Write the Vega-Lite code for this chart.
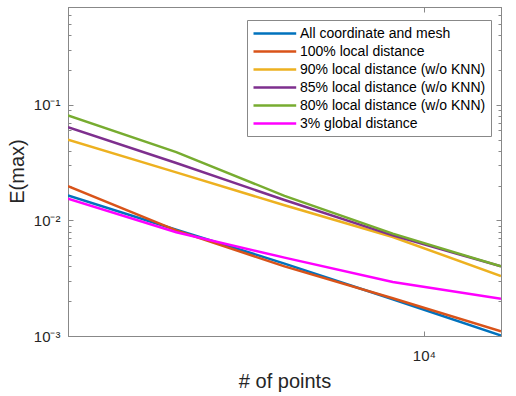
{
  "$schema": "https://vega.github.io/schema/vega-lite/v6.json",
  "width": 433,
  "height": 329,
  "autosize": {"type": "none"},
  "padding": {"left": 68, "top": 7, "right": 15, "bottom": 60},
  "config": {
    "font": "Liberation Sans",
    "view": {"stroke": "#888888", "strokeWidth": 1},
    "axis": {
      "domainColor": "#888888",
      "tickColor": "#888888",
      "labelColor": "#262626",
      "titleColor": "#262626",
      "grid": false,
      "labelFont": "Liberation Sans",
      "titleFont": "Liberation Sans",
      "labelFontSize": 15,
      "titleFontSize": 20,
      "titleFontWeight": "normal"
    }
  },
  "data": {
    "values": [
      {"method": "All coordinate and mesh", "N": 1024, "E": 0.0164},
      {"method": "All coordinate and mesh", "N": 2048, "E": 0.0083},
      {"method": "All coordinate and mesh", "N": 4096, "E": 0.00423},
      {"method": "All coordinate and mesh", "N": 8192, "E": 0.00208},
      {"method": "All coordinate and mesh", "N": 16384, "E": 0.00101},
      {"method": "100% local distance", "N": 1024, "E": 0.0198},
      {"method": "100% local distance", "N": 2048, "E": 0.0082},
      {"method": "100% local distance", "N": 4096, "E": 0.0040},
      {"method": "100% local distance", "N": 8192, "E": 0.00212},
      {"method": "100% local distance", "N": 16384, "E": 0.0011},
      {"method": "90% local distance (w/o KNN)", "N": 1024, "E": 0.0498},
      {"method": "90% local distance (w/o KNN)", "N": 2048, "E": 0.026},
      {"method": "90% local distance (w/o KNN)", "N": 4096, "E": 0.0135},
      {"method": "90% local distance (w/o KNN)", "N": 8192, "E": 0.00718},
      {"method": "90% local distance (w/o KNN)", "N": 16384, "E": 0.0033},
      {"method": "85% local distance (w/o KNN)", "N": 1024, "E": 0.064},
      {"method": "85% local distance (w/o KNN)", "N": 2048, "E": 0.0313},
      {"method": "85% local distance (w/o KNN)", "N": 4096, "E": 0.0150},
      {"method": "85% local distance (w/o KNN)", "N": 8192, "E": 0.00741},
      {"method": "85% local distance (w/o KNN)", "N": 16384, "E": 0.0040},
      {"method": "80% local distance (w/o KNN)", "N": 1024, "E": 0.0807},
      {"method": "80% local distance (w/o KNN)", "N": 2048, "E": 0.0389},
      {"method": "80% local distance (w/o KNN)", "N": 4096, "E": 0.0163},
      {"method": "80% local distance (w/o KNN)", "N": 8192, "E": 0.00767},
      {"method": "80% local distance (w/o KNN)", "N": 16384, "E": 0.0040},
      {"method": "3% global distance", "N": 1024, "E": 0.0154},
      {"method": "3% global distance", "N": 2048, "E": 0.0079},
      {"method": "3% global distance", "N": 4096, "E": 0.00476},
      {"method": "3% global distance", "N": 8192, "E": 0.00293},
      {"method": "3% global distance", "N": 16384, "E": 0.0021}
    ]
  },
  "layer": [
    {
      "mark": {"type": "line", "strokeWidth": 2.5, "clip": true},
      "encoding": {
        "x": {
          "field": "N",
          "type": "quantitative",
          "scale": {"type": "log", "domain": [1024, 16384], "nice": false},
          "axis": {
            "orient": "bottom",
            "title": "# of points",
            "values": [10000],
            "labelExpr": "'10⁴'",
            "tickSize": -5,
            "labelPadding": 17,
            "titleY": 45,
            "titleBaseline": "middle"
          }
        },
        "y": {
          "field": "E",
          "type": "quantitative",
          "scale": {"type": "log", "domain": [0.001, 0.7], "nice": false},
          "axis": {
            "orient": "left",
            "title": "E(max)",
            "values": [0.001, 0.002, 0.003, 0.004, 0.005, 0.006, 0.007, 0.008, 0.009, 0.01, 0.02, 0.03, 0.04, 0.05, 0.06, 0.07, 0.08, 0.09, 0.1, 0.2, 0.3, 0.4, 0.5, 0.6, 0.7],
            "labelExpr": "datum.value == 0.1 ? '10⁻¹' : datum.value == 0.01 ? '10⁻²' : datum.value == 0.001 ? '10⁻³' : ''",
            "tickSize": {"condition": {"test": "indexof([0.001, 0.01, 0.1], datum.value) >= 0", "value": -5}, "value": -3},
            "labelPadding": 13,
            "titleX": -51,
            "titleY": 164,
            "titleAngle": 270,
            "titleBaseline": "middle"
          }
        },
        "color": {
          "field": "method",
          "type": "nominal",
          "sort": null,
          "scale": {
            "domain": ["All coordinate and mesh", "100% local distance", "90% local distance (w/o KNN)", "85% local distance (w/o KNN)", "80% local distance (w/o KNN)", "3% global distance"],
            "range": ["#0072BD", "#D95319", "#EDB120", "#7E2F8E", "#77AC30", "#FF00FF"]
          },
          "legend": {
            "orient": "none",
            "legendX": 179,
            "legendY": 13,
            "title": null,
            "labelFont": "Liberation Sans",
            "labelFontSize": 14,
            "labelColor": "#000000",
            "labelLimit": 400,
            "symbolType": "M-1,0H5.1",
            "symbolSize": 196,
            "symbolStrokeWidth": 2.5,
            "labelOffset": 31,
            "rowPadding": 2,
            "padding": 5,
            "strokeColor": "#888888",
            "fillColor": "#ffffff"
          }
        }
      }
    },
    {
      "mark": {"type": "line", "strokeOpacity": 0},
      "encoding": {
        "x": {
          "field": "N",
          "type": "quantitative",
          "axis": {"orient": "top", "title": null, "values": [10000], "labels": false, "tickSize": -5}
        },
        "y": {
          "field": "E",
          "type": "quantitative",
          "axis": {
            "orient": "right",
            "title": null,
            "labels": false,
            "values": [0.001, 0.002, 0.003, 0.004, 0.005, 0.006, 0.007, 0.008, 0.009, 0.01, 0.02, 0.03, 0.04, 0.05, 0.06, 0.07, 0.08, 0.09, 0.1, 0.2, 0.3, 0.4, 0.5, 0.6, 0.7],
            "tickSize": {"condition": {"test": "indexof([0.001, 0.01, 0.1], datum.value) >= 0", "value": -5}, "value": -3}
          }
        },
        "detail": {"field": "method"}
      }
    }
  ],
  "resolve": {"axis": {"x": "independent", "y": "independent"}}
}
